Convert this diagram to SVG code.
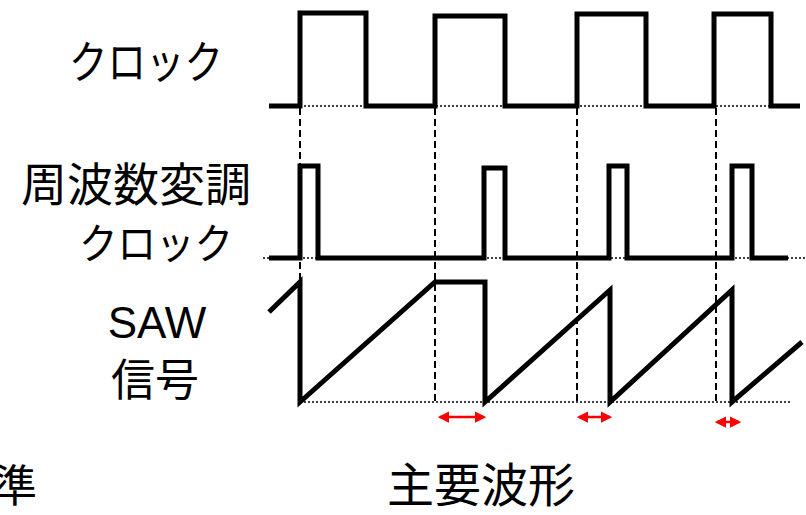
<svg xmlns="http://www.w3.org/2000/svg" width="806" height="515" viewBox="0 0 806 515">
<defs>
<style>
.lbl{font-family:"Noto Sans CJK JP","Liberation Sans",sans-serif;fill:#000;text-anchor:middle}
.lat{font-family:"Liberation Sans",Arial,sans-serif;fill:#000;text-anchor:middle}
.wave{fill:none;stroke:#000;stroke-width:5;stroke-linejoin:miter;stroke-linecap:butt}
.dot{fill:none;stroke:#000;stroke-width:1.5;stroke-dasharray:2 2}
.dash{fill:none;stroke:#000;stroke-width:2;stroke-dasharray:7 4}
.arr{fill:none;stroke:#ff0000;stroke-width:2.5;marker-start:url(#ah);marker-end:url(#ah)}
</style>
<marker id="ah" viewBox="0 0 10 10" refX="8" refY="5" markerWidth="4.5" markerHeight="4.5" orient="auto-start-reverse" markerUnits="strokeWidth">
<path d="M0,0 L10,5 L0,10 Z" fill="#ff0000"/>
</marker>
</defs>
<rect width="806" height="515" fill="#fff"/>

<g id="labels">
<text id="lbl-clock" class="lbl" x="146" y="79" font-size="45" textLength="154" lengthAdjust="spacingAndGlyphs">クロック</text>
<text id="lbl-fm" class="lbl" x="136" y="201" font-size="46">周波数変調</text>
<text id="lbl-fm2" class="lbl" x="156" y="259" font-size="42" textLength="154" lengthAdjust="spacingAndGlyphs">クロック</text>
<text id="lbl-saw" class="lat" x="157" y="338" font-size="44">SAW</text>
<text id="lbl-sig" class="lbl" x="155" y="396" font-size="44">信号</text>
<text id="lbl-std" class="lbl" x="37" y="502" font-size="44" style="text-anchor:end">準</text>
<text id="lbl-main" class="lbl" x="481" y="502" font-size="47">主要波形</text>
</g>

<g id="guides">
<line class="dot" x1="300" y1="106" x2="771" y2="106"/>
<line class="dot" x1="263" y1="258" x2="806" y2="258"/>
<line class="dot" x1="300" y1="402" x2="790" y2="402"/>
<line class="dash" x1="300" y1="108" x2="300" y2="402"/>
<line class="dash" x1="435" y1="108" x2="435" y2="402"/>
<line class="dash" x1="577" y1="108" x2="577" y2="402"/>
<line class="dash" x1="716" y1="108" x2="716" y2="402"/>
</g>

<g id="clock">
<path class="wave" d="M269,106 H300 V13 H366 V106 H435 V16 H505 V106 H577 V14 H646 V106 H714 V14 H771 V106 H800"/>
</g>
<g id="fm-clock">
<path class="wave" d="M269,258 H300 V166 H318 V258 H484 V168 H505 V258 H609 V166 H627 V258 H732 V166 H752 V258 H788"/>
</g>
<g id="saw">
<path class="wave" d="M269,312 L300,282 V402 L435,282 H485 V402 L610,290 V402 L732,290 V402 L802,342"/>
</g>

<g id="connectors">
<line class="arr" x1="440" y1="417" x2="484" y2="417"/>
<line class="arr" x1="579" y1="417" x2="610" y2="417"/>
<line class="arr" x1="717" y1="422" x2="739" y2="422"/>
</g>
</svg>
